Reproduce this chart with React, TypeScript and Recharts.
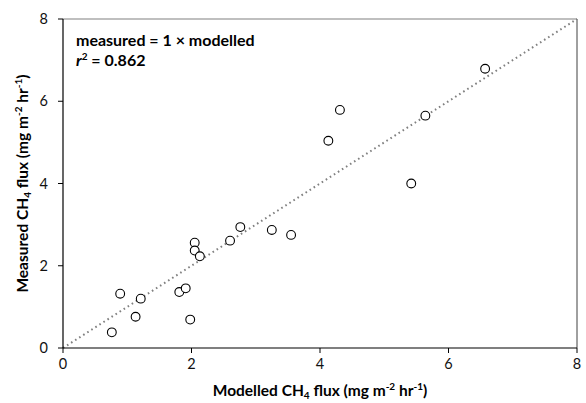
import React from "react";
import {
  ScatterChart,
  Scatter,
  XAxis,
  YAxis,
  ReferenceLine,
  Customized,
} from "recharts";

// modelled vs measured CH4 flux
const modelled = [
  0.76, 0.89, 1.13, 1.21, 1.81, 1.91, 1.98, 2.05, 2.05, 2.13, 2.6, 2.76, 3.25,
  3.55, 4.13, 4.31, 5.42, 5.64, 6.57,
];
const measured = [
  0.38, 1.32, 0.76, 1.2, 1.36, 1.45, 0.69, 2.56, 2.37, 2.23, 2.61, 2.94, 2.87,
  2.75, 5.04, 5.79, 4.0, 5.65, 6.79,
];
const ticks = [0, 2, 4, 6, 8];

const points = modelled.map((x, i) => ({ x, y: measured[i] }));

const FONT = "Lato, 'Open Sans', sans-serif";

const OpenCircle = (props: any) => (
  <circle cx={props.cx} cy={props.cy} r={4.4} fill="#fff" stroke="#000" strokeWidth={1.1} />
);

const Title = ({ name }: { name: string }) => (
  <>
    {name} CH<tspan fontSize={10} dy={3}>4</tspan>
    <tspan dy={-3}> flux (mg m</tspan>
    <tspan fontSize={10} dy={-6}>-2</tspan>
    <tspan dy={6}> hr</tspan>
    <tspan fontSize={10} dy={-6}>-1</tspan>
    <tspan dy={6}>)</tspan>
  </>
);

const XTitle = (props: any) => {
  const { viewBox } = props;
  const cx = viewBox.x + viewBox.width / 2;
  return (
    <text x={cx} y={396} textAnchor="middle" fontFamily={FONT} fontWeight="bold" fontSize={15.5} fill="#000">
      <Title name="Modelled" />
    </text>
  );
};

const YTitle = (props: any) => {
  const { viewBox } = props;
  const cy = viewBox.y + viewBox.height / 2;
  const x = 28;
  return (
    <text x={x} y={cy} transform={`rotate(-90 ${x} ${cy})`} textAnchor="middle" fontFamily={FONT} fontWeight="bold" fontSize={15.5} fill="#000">
      <Title name="Measured" />
    </text>
  );
};

const Annotation = () => (
  <g fontFamily={FONT} fontWeight="bold" fontSize={16} fill="#000">
    <text x={76} y={46}>measured = 1 × modelled</text>
    <text x={76} y={66}>
      <tspan fontStyle="italic">r</tspan>
      <tspan fontSize={10} dy={-6}>2</tspan>
      <tspan dy={6}> = 0.862</tspan>
    </text>
  </g>
);

export default function App() {
  return (
    <div style={{ position: "absolute", left: 0, top: 0, background: "#fff" }}>
      <ScatterChart
        width={586}
        height={403}
        margin={{ top: 19, right: 9, bottom: 0, left: 0 }}
      >
        <XAxis
          type="number"
          dataKey="x"
          domain={[0, 8]}
          ticks={ticks}
          height={55}
          axisLine={{ stroke: "#000", strokeWidth: 1.2 }}
          tickLine={{ stroke: "#000" }}
          tickSize={5}
          tickMargin={6}
          tick={{ fontFamily: FONT, fontSize: 14.5, fill: "#111" }}
          label={<XTitle />}
        />
        <YAxis
          type="number"
          dataKey="y"
          domain={[0, 8]}
          ticks={ticks}
          width={63}
          axisLine={{ stroke: "#000", strokeWidth: 1.2 }}
          tickLine={{ stroke: "#000" }}
          tickSize={5}
          tickMargin={10}
          tick={{ fontFamily: FONT, fontSize: 14.5, fill: "#111" }}
          label={<YTitle />}
        />
        <ReferenceLine y={8} stroke="#808080" strokeWidth={1.2} />
        <ReferenceLine x={8} stroke="#404040" strokeWidth={1} />
        <ReferenceLine
          segment={[
            { x: 0, y: 0 },
            { x: 8, y: 8 },
          ]}
          stroke="#808080"
          strokeWidth={2}
          strokeDasharray="1.6 3.2"
        />
        <Scatter data={points} shape={<OpenCircle />} isAnimationActive={false} />
        <Customized component={Annotation} />
      </ScatterChart>
    </div>
  );
}
